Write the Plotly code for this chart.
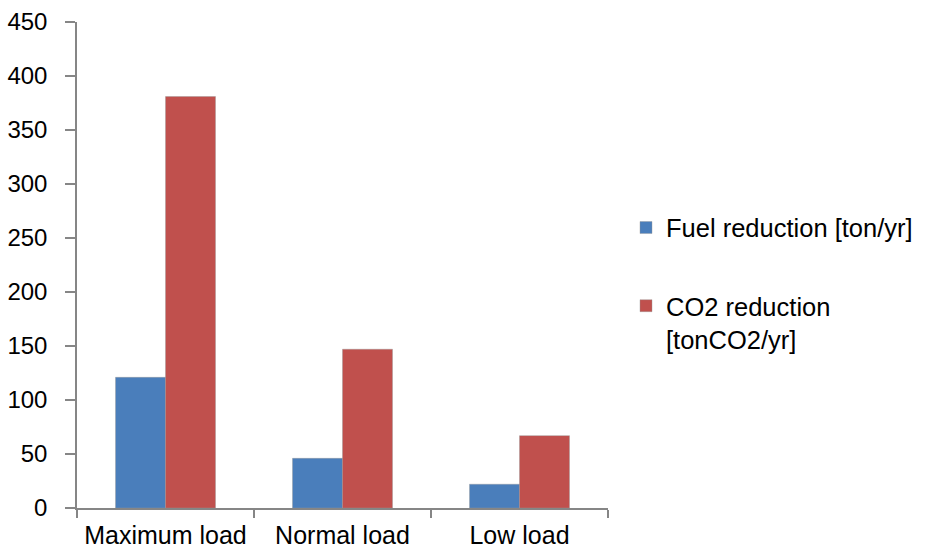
import plotly.graph_objects as go

# Load cases and yearly reductions
categories = ["Maximum load", "Normal load", "Low load"]
fuel_reduction = [121, 46, 22]      # ton/yr
co2_reduction = [381, 147, 67]      # tonCO2/yr
y_ticks = [0, 50, 100, 150, 200, 250, 300, 350, 400, 450]

BLUE = "#4a7ebb"
RED = "#c0504d"
AXIS = "#868686"
FONT = "Liberation Sans, Arial, sans-serif"

fig = go.Figure()
fig.add_trace(go.Bar(
    x=categories, y=fuel_reduction, name="Fuel reduction [ton/yr]",
    marker=dict(color=BLUE, line=dict(color="rgba(150,150,150,0.5)", width=0.8)),
    legendgroup="fuel",
))
fig.add_trace(go.Bar(
    x=categories, y=co2_reduction, name="CO2 reduction<br>[tonCO2/yr]",
    marker=dict(color=RED, line=dict(color="rgba(150,150,150,0.5)", width=0.8)),
    legendgroup="co2",
))

fig.update_layout(
    width=928, height=551,
    margin=dict(l=77, r=320, t=22, b=43),
    paper_bgcolor="white", plot_bgcolor="white",
    barmode="group", bargap=0.435, bargroupgap=0,
    font=dict(family=FONT, color="#000000", size=25),
    showlegend=True,
    legend=dict(
        xref="container", x=626 / 928, xanchor="left",
        y=0.462, yanchor="middle",
        font=dict(size=25.5, family=FONT, color="#000000"),
        valign="top", tracegroupgap=42,
        itemwidth=30,
        bgcolor="rgba(0,0,0,0)",
    ),
    xaxis=dict(
        automargin=False,
        showline=True, linecolor=AXIS, linewidth=1.5,
        ticks="outside", tickson="boundaries", ticklen=8, tickcolor=AXIS, tickwidth=1.5,
        tickfont=dict(size=25, family=FONT, color="#000000"),
        tickangle=0,
        ticklabelstandoff=4,
        showgrid=False, zeroline=False,
    ),
    yaxis=dict(
        automargin=False,
        range=[0, 450], tickvals=y_ticks,
        showline=True, linecolor=AXIS, linewidth=1.5,
        ticks="outside", ticklen=10, tickcolor=AXIS, tickwidth=1.5,
        tickfont=dict(size=24, family=FONT, color="#000000"),
        ticklabelstandoff=13,
        showgrid=False, zeroline=False,
    ),
)

fig.write_html("out.html")
